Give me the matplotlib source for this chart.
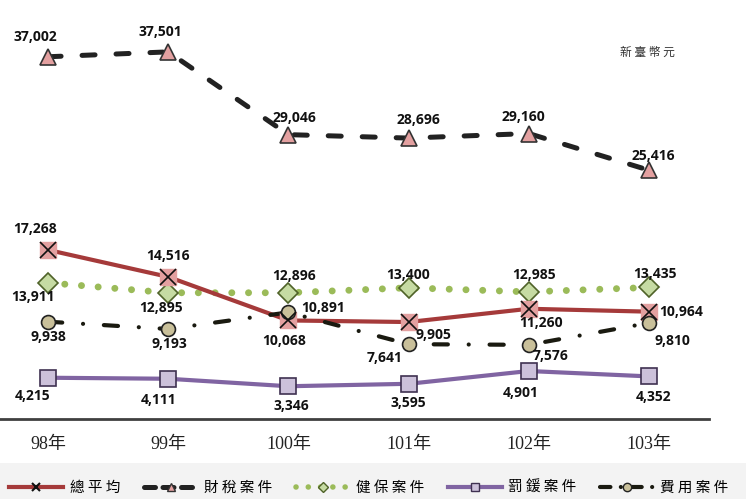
import numpy as np
import matplotlib
matplotlib.use("Agg")
import matplotlib.pyplot as plt
from matplotlib.lines import Line2D
from matplotlib.patches import Rectangle

plt.rcParams['font.family'] = ['Open Sans', 'Noto Sans CJK TC', 'DejaVu Sans']

# data
years = ['98年', '99年', '100年', '101年', '102年', '103年']
avg_all = [17268, 14516, 10068, 9905, 11260, 10964]      # 總平均
tax = [37002, 37501, 29046, 28696, 29160, 25416]          # 財稅案件
health = [13911, 12895, 12896, 13400, 12985, 13435]       # 健保案件
fines = [4215, 4111, 3346, 3595, 4901, 4352]              # 罰鍰案件
fees = [9938, 9193, 10891, 7641, 7576, 9810]              # 費用案件

# label offsets in points (dx, dy) for each point
off_avg = [(-9, 15), (0, 15), (-3, -15), (18, -9), (9, -10), (23, 0)]
off_tax = [(-9, 14), (-6, 14), (4, 12), (7, 13), (-4, 12), (3, 10)]
off_health = [(-11, -10), (-5, -11), (4, 12), (0, 9), (4, 12), (4, 10)]
off_fees = [(0, -11), (1, -11), (25, 3), (-17, -10), (16, -8), (17, -13)]
off_fines = [(-11, -13), (-7, -15), (2, -14), (0, -14), (-6, -16), (3, -15)]

x = np.arange(len(years))

fig = plt.figure(figsize=(7.46, 4.99), dpi=100)
fig.patches.append(Rectangle((0, 0), 1, 36 / 499, transform=fig.transFigure,
                             facecolor='#f3f3f3', edgecolor='none', zorder=0))
ax = fig.add_axes([-12 / 746, 80 / 499, 721 / 746, 419 / 499])
ax.set_facecolor('none')

red = '#a53a3a'
pink = '#e3a0a0'

# 財稅案件
ax.plot(x, tax, color='#222222', lw=3.6, ls=(0, (2.6, 4.2)),
        dash_capstyle='round', zorder=3)
ax.plot(x, tax, ls='none', marker='^', ms=12, mfc=pink, mec='#333333',
        mew=1.2, zorder=5)

# 健保案件
ax.plot(x, health, color='#9bbb59', lw=5, ls=(0, (0.01, 2.4)),
        dash_capstyle='round', zorder=3)
ax.plot(x, health, ls='none', marker='D', ms=10, mfc='#c6dba3', mec='#4f6228',
        mew=1.2, zorder=5)

# 總平均
ax.plot(x, avg_all, color=red, lw=3, zorder=3)
ax.plot(x, avg_all, ls='none', marker='s', ms=12, mfc=pink, mec=pink, zorder=5)
ax.plot(x, avg_all, ls='none', marker='x', ms=12, mec='#111111', mew=1.2, zorder=6)

# 費用案件
ax.plot(x, fees, color='#1a1a10', lw=3, ls=(0, (3.4, 5, 0.01, 5)),
        dash_capstyle='round', zorder=3)
ax.plot(x, fees, ls='none', marker='o', ms=10, mfc='#c9c09a', mec='#222222',
        mew=1.2, zorder=5)

# 罰鍰案件
ax.plot(x, fines, color='#8064a2', lw=3, zorder=3)
ax.plot(x, fines, ls='none', marker='s', ms=11, mfc='#ccc1da', mec='#3f3151',
        mew=1.2, zorder=5)


def put_labels(vals, offs):
    for xi, v, (dx, dy) in zip(x, vals, offs):
        ax.annotate(f'{v:,}', (xi, v), xytext=(dx, dy), textcoords='offset points',
                    ha='center', va='center', fontsize=10, fontweight='bold',
                    color='#111111', zorder=7)


put_labels(tax, off_tax)
put_labels(avg_all, off_avg)
put_labels(health, off_health)
put_labels(fees, off_fees)
put_labels(fines, off_fines)

ax.set_xlim(-0.5, 5.5)
ax.set_ylim(0, 42800)
ax.set_xticks(x)
ax.set_xticklabels(years, family=['Liberation Serif', 'Noto Sans CJK TC'],
                   fontsize=13, color='#222222')
ax.tick_params(axis='x', length=0, pad=12)
ax.set_yticks([])
for s in ['top', 'left', 'right']:
    ax.spines[s].set_visible(False)
ax.spines['bottom'].set_color('#404040')
ax.spines['bottom'].set_linewidth(2)

fig.text(647 / 746, 1 - 52 / 499, '新 臺 幣 元', ha='center', va='center',
         fontsize=8.5, color='#333333', family=['Noto Sans CJK TC'])

# legend
handles = [
    Line2D([], [], color=red, lw=3, marker='x', ms=6, mec='#111111', mew=1.5),
    Line2D([], [], color='#222222', lw=3.6, ls=(0, (2.2, 1.5)), marker='^', ms=6,
           mfc=pink, mec='#333333', dash_capstyle='round'),
    Line2D([], [], color='#9bbb59', lw=4, ls=(0, (0.01, 2.2)), marker='D', ms=5,
           mfc='#c6dba3', mec='#4f6228', dash_capstyle='round'),
    Line2D([], [], color='#8064a2', lw=3, marker='s', ms=6, mfc='#ccc1da',
           mec='#3f3151'),
    Line2D([], [], color='#1a1a10', lw=3, ls=(0, (2.5, 2.5, 0.01, 2.5)), marker='o',
           ms=6, mfc='#c9c09a', mec='#222222', dash_capstyle='round'),
]
names = ['總 平 均', '財 稅 案 件', '健 保 案 件', '罰 鍰 案 件', '費 用 案 件']
fig.legend(handles, names, loc='center', bbox_to_anchor=(369 / 746, 1 - 488 / 499),
           ncol=5, frameon=False, handlelength=3.7, columnspacing=1.6,
           handletextpad=0.45, borderaxespad=0, borderpad=0,
           prop={'family': ['Noto Sans CJK TC'], 'size': 10.5})

fig.savefig('out.png', dpi=100)
